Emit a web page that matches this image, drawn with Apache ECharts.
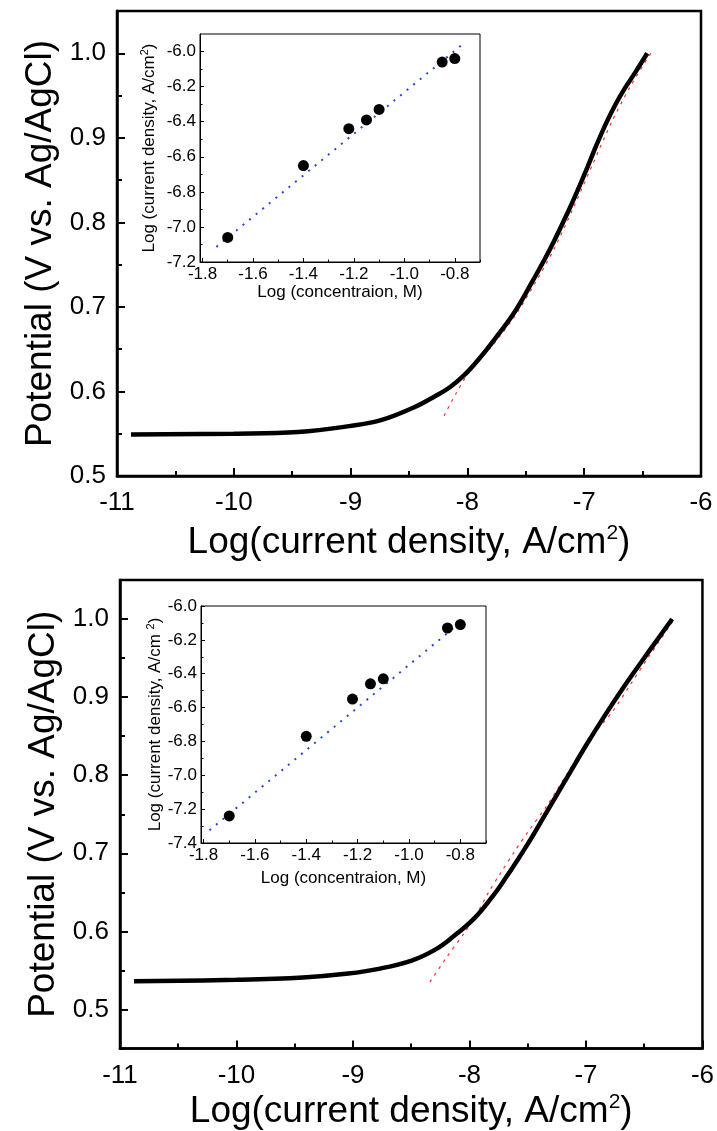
<!DOCTYPE html>
<html>
<head>
<meta charset="utf-8">
<script src="https://cdn.jsdelivr.net/npm/echarts@6/dist/echarts.min.js"></script>
<style>
html,body{margin:0;padding:0;background:#fff;}
#c{width:717px;height:1131px;}
</style>
</head>
<body>
<div id="c"></div>
<script>
// ---------- data ----------
// Top panel: polarization curve (log current density, potential)
var topCurve = [[-10.88,0.549],[-10.0,0.550],[-9.45,0.552],[-9.01,0.559],[-8.74,0.566],[-8.46,0.581],[-8.27,0.595],[-8.15,0.605],[-8.03,0.619],[-7.91,0.637],[-7.76,0.663],[-7.60,0.693],[-7.44,0.731],[-7.29,0.769],[-7.13,0.815],[-7.05,0.840],[-6.97,0.866],[-6.89,0.893],[-6.81,0.918],[-6.73,0.940],[-6.65,0.959],[-6.56,0.978],[-6.46,1.0]];
var topFit = [[-8.20,0.571],[-8.10,0.597],[-7.98,0.624],[-7.80,0.652],[-7.60,0.688],[-7.43,0.726],[-7.26,0.768],[-7.09,0.818],[-6.93,0.868],[-6.76,0.920],[-6.60,0.962],[-6.43,1.0]];
// Bottom panel
var botCurve = [[-10.88,0.536],[-10.0,0.538],[-9.43,0.541],[-9.04,0.546],[-8.78,0.552],[-8.49,0.563],[-8.29,0.577],[-8.15,0.592],[-7.95,0.618],[-7.80,0.645],[-7.70,0.666],[-7.58,0.693],[-7.47,0.719],[-7.34,0.752],[-7.15,0.800],[-7.00,0.838],[-6.84,0.876],[-6.68,0.912],[-6.52,0.946],[-6.39,0.973],[-6.26,1.0]];
var botFit = [[-8.34,0.535],[-8.20,0.566],[-8.05,0.597],[-7.95,0.619],[-7.84,0.649],[-7.74,0.673],[-7.61,0.703],[-7.50,0.727],[-7.34,0.760],[-7.17,0.800],[-6.99,0.842],[-6.77,0.882],[-6.61,0.918],[-6.46,0.952],[-6.24,1.0]];
// Insets: log concentration vs log current density
var logConc = [-1.70,-1.40,-1.22,-1.15,-1.10,-0.85,-0.80];
var topInsetJ = [-7.06,-6.65,-6.44,-6.39,-6.33,-6.06,-6.04];
var botInsetJ = [-7.24,-6.77,-6.55,-6.46,-6.43,-6.13,-6.11];
var topInsetFit = [[-1.745,-7.114],[-0.77,-5.96]];
var botInsetFit = [[-1.777,-7.325],[-0.797,-6.093]];
// Tick values
var mainXTicks = [-11,-10,-9,-8,-7,-6];
var mainXMinor = [-10.5,-9.5,-8.5,-7.5,-6.5];
var mainYTicks = [0.5,0.6,0.7,0.8,0.9,1.0];
var mainYMinorTop = [0.55,0.65,0.75,0.85,0.95];
var mainYMinorBot = [0.45,0.55,0.65,0.75,0.85,0.95];
var insetXTicks = [-1.8,-1.6,-1.4,-1.2,-1.0,-0.8];
var insetXMinor = [-1.7,-1.5,-1.3,-1.1,-0.9,-0.7];
var topInsetYTicks = [-7.2,-7.0,-6.8,-6.6,-6.4,-6.2,-6.0];
var topInsetYMinor = [-7.1,-6.9,-6.7,-6.5,-6.3,-6.1];
var botInsetYTicks = [-7.4,-7.2,-7.0,-6.8,-6.6,-6.4,-6.2,-6.0];
var botInsetYMinor = [-7.3,-7.1,-6.9,-6.7,-6.5,-6.3,-6.1];

// ---------- build ----------
var FONT = "'Liberation Sans',Arial,sans-serif";
function fmt1(v){ return (Math.round(v*10)/10).toFixed(1); }
function fmt0(v){ return String(Math.round(v)); }

function axisPair(kind, g, min, max, majors, minors, o){
  var major = {
    type:'value', gridIndex:g, min:min, max:max,
    position: kind==='x' ? 'bottom' : 'left',
    axisLine:{show:true, onZero:false, lineStyle:{color:'#000', width:o.lw}},
    axisTick:{show:true, inside:true, length:o.tl, customValues:majors, lineStyle:{color:'#000', width:o.tw}},
    axisLabel:{show:true, customValues:majors, formatter:o.fmt, margin:o.margin, fontSize:o.fs, fontFamily:FONT, color:'#000'},
    splitLine:{show:false},
    name:o.name, nameLocation:'middle', nameGap:o.nameGap,
    nameTextStyle:{fontSize:o.nfs, fontFamily:FONT, color:'#000', rich:{s:{fontSize:o.sfs, fontFamily:FONT, color:'#000', padding:[0,0,o.sp,0]}}}
  };
  if (kind==='y') major.nameRotate = 90;
  var minor = {
    type:'value', gridIndex:g, min:min, max:max,
    position: kind==='x' ? 'bottom' : 'left',
    axisLine:{show:false, onZero:false},
    axisTick:{show:true, inside:true, length:o.mtl, customValues:minors, lineStyle:{color:'#000', width:o.tw}},
    axisLabel:{show:false},
    splitLine:{show:false}
  };
  return [major, minor];
}

var mainX = {lw:2.5, tl:8, mtl:5, tw:2, fmt:fmt0, margin:14, fs:26, nfs:37, sfs:21, sp:19, nameGap:47, name:'Log(current density, A/cm{s|2})'};
var mainY = {lw:2.5, tl:8, mtl:5, tw:2, fmt:fmt1, margin:11, fs:26, nfs:37, sfs:21, sp:19, nameGap:57, name:'Potential (V vs. Ag/AgCl)'};
var insX = {lw:1, tl:4, mtl:2.5, tw:1, fmt:fmt1, margin:4, fs:17, nfs:17, sfs:11, sp:9, nameGap:21, name:'Log (concentraion, M)'};
var insYTop = {lw:1, tl:4, mtl:2.5, tw:1, fmt:fmt1, margin:4, fs:17, nfs:17, sfs:11, sp:9, nameGap:41, name:'Log (current density, A/cm{s|2})'};
var insYBot = {lw:1, tl:4, mtl:2.5, tw:1, fmt:fmt1, margin:4, fs:17, nfs:17, sfs:11, sp:9, nameGap:34, name:'Log (current density, A/cm {s|2})'};

var xAxes = [].concat(
  axisPair('x',0,-11,-6,mainXTicks,mainXMinor,mainX),
  axisPair('x',1,-1.81,-0.70,insetXTicks,insetXMinor,insX),
  axisPair('x',2,-11,-6,mainXTicks,mainXMinor,Object.assign({},mainX,{nameGap:43})),
  axisPair('x',3,-1.81,-0.70,insetXTicks,insetXMinor,Object.assign({},insX,{nameGap:27}))
);
var yAxes = [].concat(
  axisPair('y',0,0.5,1.05,mainYTicks,mainYMinorTop,mainY),
  axisPair('y',1,-7.2,-5.9,topInsetYTicks,topInsetYMinor,insYTop),
  axisPair('y',2,0.45,1.05,mainYTicks,mainYMinorBot,mainY),
  axisPair('y',3,-7.4,-6.0,botInsetYTicks,botInsetYMinor,insYBot)
);

function pairs(xs, ys){ return xs.map(function(x,i){ return [x, ys[i]]; }); }

var option = {
  backgroundColor:'#fff',
  animation:false,
  grid:[
    {left:117, top:11, width:584, height:465, show:true, borderColor:'#000', borderWidth:2.5, backgroundColor:'transparent'},
    {left:200, top:34, width:280, height:228, show:true, borderColor:'#000', borderWidth:1, backgroundColor:'#fff'},
    {left:120, top:580, width:584, height:469, show:true, borderColor:'#000', borderWidth:2.5, backgroundColor:'transparent'},
    {left:201, top:606, width:285, height:237, show:true, borderColor:'#000', borderWidth:1, backgroundColor:'#fff'}
  ],
  xAxis: xAxes,
  yAxis: yAxes,
  series:[
    {type:'line', xAxisIndex:0, yAxisIndex:0, data:topFit, showSymbol:false, smooth:0.3, lineStyle:{color:'#ff3030', width:1.2, type:[3,5]}, z:3},
    {type:'line', xAxisIndex:0, yAxisIndex:0, data:topCurve, showSymbol:false, smooth:0.4, lineStyle:{color:'#000', width:4.5}, z:4},
    {type:'line', xAxisIndex:2, yAxisIndex:2, data:topInsetFit, showSymbol:false, lineStyle:{color:'#2a46d6', width:2, type:[2,6.5]}, z:5},
    {type:'scatter', xAxisIndex:2, yAxisIndex:2, data:pairs(logConc, topInsetJ), symbol:'circle', symbolSize:11, itemStyle:{color:'#000', opacity:1}, z:6},
    {type:'line', xAxisIndex:4, yAxisIndex:4, data:botFit, showSymbol:false, smooth:0.3, lineStyle:{color:'#ff3030', width:1.2, type:[3,5]}, z:3},
    {type:'line', xAxisIndex:4, yAxisIndex:4, data:botCurve, showSymbol:false, smooth:0.4, lineStyle:{color:'#000', width:4.5}, z:4},
    {type:'line', xAxisIndex:6, yAxisIndex:6, data:botInsetFit, showSymbol:false, lineStyle:{color:'#2a46d6', width:2, type:[2,6.5]}, z:5},
    {type:'scatter', xAxisIndex:6, yAxisIndex:6, data:pairs(logConc, botInsetJ), symbol:'circle', symbolSize:11, itemStyle:{color:'#000', opacity:1}, z:6}
  ]
};
var chart = echarts.init(document.getElementById('c'), null, {renderer:'canvas'});
chart.setOption(option);
</script>
</body>
</html>
